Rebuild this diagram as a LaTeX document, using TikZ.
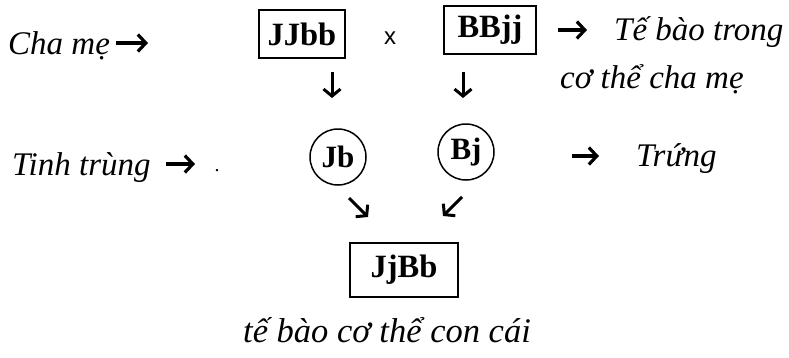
\documentclass[tikz,border=0pt]{standalone}
\usepackage{fontspec}
\setmainfont{Liberation Serif}
\newfontfamily\sansx{Liberation Sans}
\usetikzlibrary{arrows.meta}
\tikzset{
  lab/.style={font=\itshape\fontsize{33}{38}\selectfont, inner sep=0pt},
  gbox/.style={draw, line width=1.6pt, font=\bfseries\fontsize{32.5}{38}\selectfont, inner xsep=0pt, inner ysep=0pt, minimum height=48pt},
  gcirc/.style={draw, circle, line width=1.5pt, font=\bfseries\fontsize{31}{36}\selectfont, inner sep=0pt, minimum size=56pt},
  arr/.style={line width=3pt, -{Straight Barb[length=7pt,width=17pt,line width=3pt]}},
  harr/.style={line width=3.2pt, -{Straight Barb[length=8pt,width=17pt,line width=3.2pt]}}
}
\begin{document}
\begin{tikzpicture}[x=1pt,y=-1pt]
\useasboundingbox[fill=white] (0,0) rectangle (789,357);
% row 1
\node[lab, anchor=base west] (cha) at (8,54) {Cha mẹ};
\coordinate (cha1) at (116,43);
\coordinate (cha2) at (148,43);
\draw[harr] (cha1) -- (cha2);
\node[gbox, minimum width=86pt] (JJbb) at (302,34) {JJbb};
\node[font=\sansx\fontsize{24}{28}\selectfont, inner sep=0pt] (cross) at (390,38) {x};
\node[gbox, minimum width=92pt] (BBjj) at (490,30) {BBjj};
\coordinate (te1) at (558,30);
\coordinate (te2) at (587,30);
\draw[harr] (te1) -- (te2);
\node[lab, anchor=base west] (te) at (614,40) {Tế bào trong};
\node[lab, anchor=base west] (co) at (560,88) {cơ thể cha mẹ};
% down arrows
\coordinate (d1a) at (332,72);
\coordinate (d1b) at (332,98);
\coordinate (d2a) at (463,72);
\coordinate (d2b) at (463,98);
\draw[arr] (d1a) -- (d1b);
\draw[arr] (d2a) -- (d2b);
% row 2
\node[lab, anchor=base west] (tinh) at (12,175) {Tinh trùng};
\coordinate (ti1) at (166,164);
\coordinate (ti2) at (195,164);
\draw[harr] (ti1) -- (ti2);
\node[font=\fontsize{20}{24}\selectfont, inner sep=0pt] (dot) at (217,171) {.};
\node[gcirc] (Jb) at (338,157) {Jb};
\node[gcirc] (Bj) at (466,152) {Bj};
\coordinate (tr1) at (572,156);
\coordinate (tr2) at (599,156);
\draw[harr] (tr1) -- (tr2);
\node[lab, anchor=base west] (trung) at (636,166) {Trứng};
% diagonal arrows
\coordinate (g1a) at (349,198);
\coordinate (g1b) at (368,217);
\coordinate (g2a) at (462,197);
\coordinate (g2b) at (443,216);
\draw[arr] (g1a) -- (g1b);
\draw[arr] (g2a) -- (g2b);
% offspring
\node[gbox, minimum width=108pt, minimum height=54pt] (JjBb) at (404,270) {JjBb};
\node[lab, font=\itshape\fontsize{34.5}{40}\selectfont, anchor=base west] (con) at (243,342) {tế bào cơ thể con cái};
\end{tikzpicture}
\end{document}
